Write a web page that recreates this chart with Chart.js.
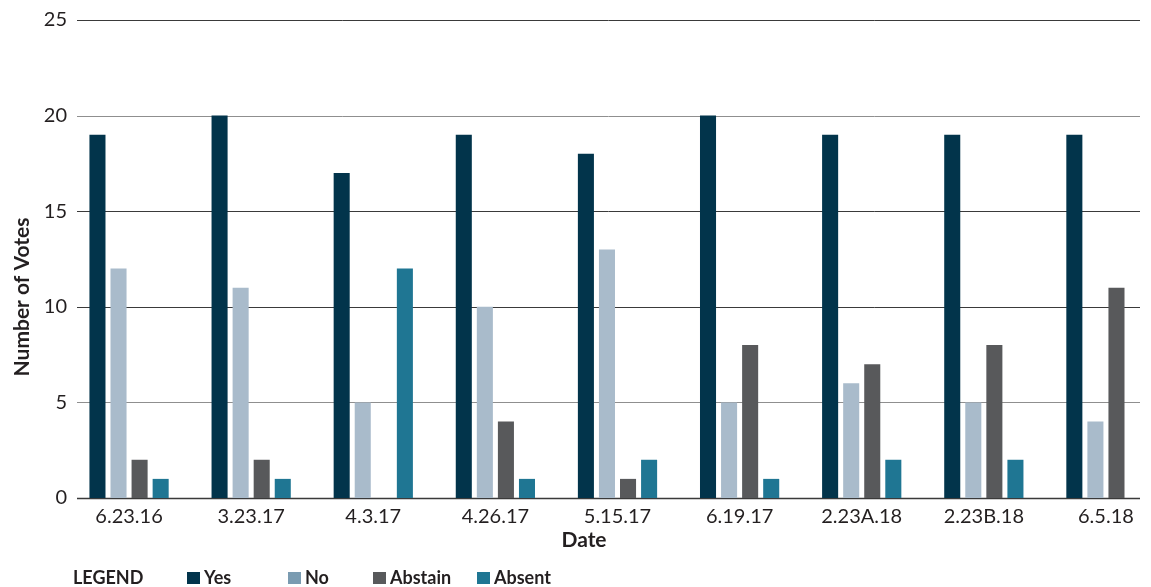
<!DOCTYPE html>
<html>
<head>
<meta charset="utf-8">
<script src="https://cdn.jsdelivr.net/npm/chart.js@4"></script>
<style>
  html, body { margin: 0; padding: 0; background: #fff; }
  #wrap { width: 1151px; height: 587px; overflow: hidden; }
</style>
</head>
<body>
<div id="wrap"><canvas id="myChart" width="1170" height="587"></canvas></div>
<script>
const dates = ['6.23.16', '3.23.17', '4.3.17', '4.26.17', '5.15.17', '6.19.17', '2.23A.18', '2.23B.18', '6.5.18'];
const yesVotes = [19, 20, 17, 19, 18, 20, 19, 19, 19];
const noVotes = [12, 11, 5, 10, 13, 5, 6, 5, 4];
const abstainVotes = [2, 2, 0, 4, 1, 8, 7, 8, 11];
const absentVotes = [1, 1, 12, 1, 2, 1, 2, 2, 0];
const yTicks = [0, 5, 10, 15, 20, 25];

const FONT = 'Lato, "Noto Sans", sans-serif';
const legendBoxColors = ['#02344c', '#7a9bb1', '#58595b', '#1f7693'];

// grid lines, axis titles and the legend row
const decor = {
  id: 'decor',
  beforeDatasetsDraw(chart) {
    const ctx = chart.ctx;
    const y = chart.scales.y;
    ctx.save();
    yTicks.forEach(v => {
      const py = Math.round(y.getPixelForValue(v)) + 0.5;
      ctx.strokeStyle = (v === 5 || v === 20) ? '#8f8f8f' : '#3a3a3a';
      ctx.lineWidth = (v === 0) ? 1.5 : 1;
      ctx.beginPath();
      ctx.moveTo(77, py);
      ctx.lineTo(1140, py);
      ctx.stroke();
    });
    ctx.restore();
  },
  afterDraw(chart) {
    const ctx = chart.ctx;
    ctx.save();
    ctx.fillStyle = '#231f20';
    ctx.textBaseline = 'middle';

    ctx.font = 'bold 21px ' + FONT;
    ctx.textAlign = 'center';
    ctx.fillText('Date', 584, 540);

    ctx.save();
    ctx.translate(22, 297);
    ctx.rotate(-Math.PI / 2);
    ctx.fillText('Number of Votes', 0, 0);
    ctx.restore();

    ctx.textAlign = 'left';
    ctx.font = 'bold 18px ' + FONT;
    ctx.fillText('LEGEND', 73, 578);
    const boxX = [187, 288, 373, 477];
    chart.data.datasets.forEach((ds, i) => {
      ctx.fillStyle = legendBoxColors[i];
      ctx.fillRect(boxX[i], 572, 13, 12);
      ctx.fillStyle = '#231f20';
      ctx.fillText(ds.label, boxX[i] + 17, 578);
    });
    ctx.restore();
  }
};

const config = {
  type: 'bar',
  data: {
    labels: dates,
    datasets: [
      { label: 'Yes', data: yesVotes, backgroundColor: '#02344b' },
      { label: 'No', data: noVotes, backgroundColor: '#a9bbcb' },
      { label: 'Abstain', data: abstainVotes, backgroundColor: '#58595b' },
      { label: 'Absent', data: absentVotes, backgroundColor: '#1f7693' },
    ]
  },
  options: {
    responsive: false,
    animation: false,
    categoryPercentage: 0.69,
    barPercentage: 0.762,
    layout: { padding: { top: 20, right: 3, left: 0, bottom: 0 } },
    plugins: {
      legend: { display: false },
      tooltip: { enabled: false },
      title: { display: false }
    },
    scales: {
      x: {
        grid: { display: false, drawTicks: false },
        border: { display: false },
        ticks: { color: '#231f20', font: { family: FONT, size: 20 }, padding: 7, maxRotation: 0 },
        afterFit(s) { s.height = 89; }
      },
      y: {
        min: 0,
        max: 25,
        grid: { display: false, drawTicks: false },
        border: { display: false },
        ticks: { stepSize: 5, color: '#231f20', font: { family: FONT, size: 20 }, padding: 1 },
        afterFit(s) { s.width = 68; }
      }
    }
  },
  plugins: [decor]
};

new Chart(document.getElementById('myChart').getContext('2d'), config);
</script>
</body>
</html>
